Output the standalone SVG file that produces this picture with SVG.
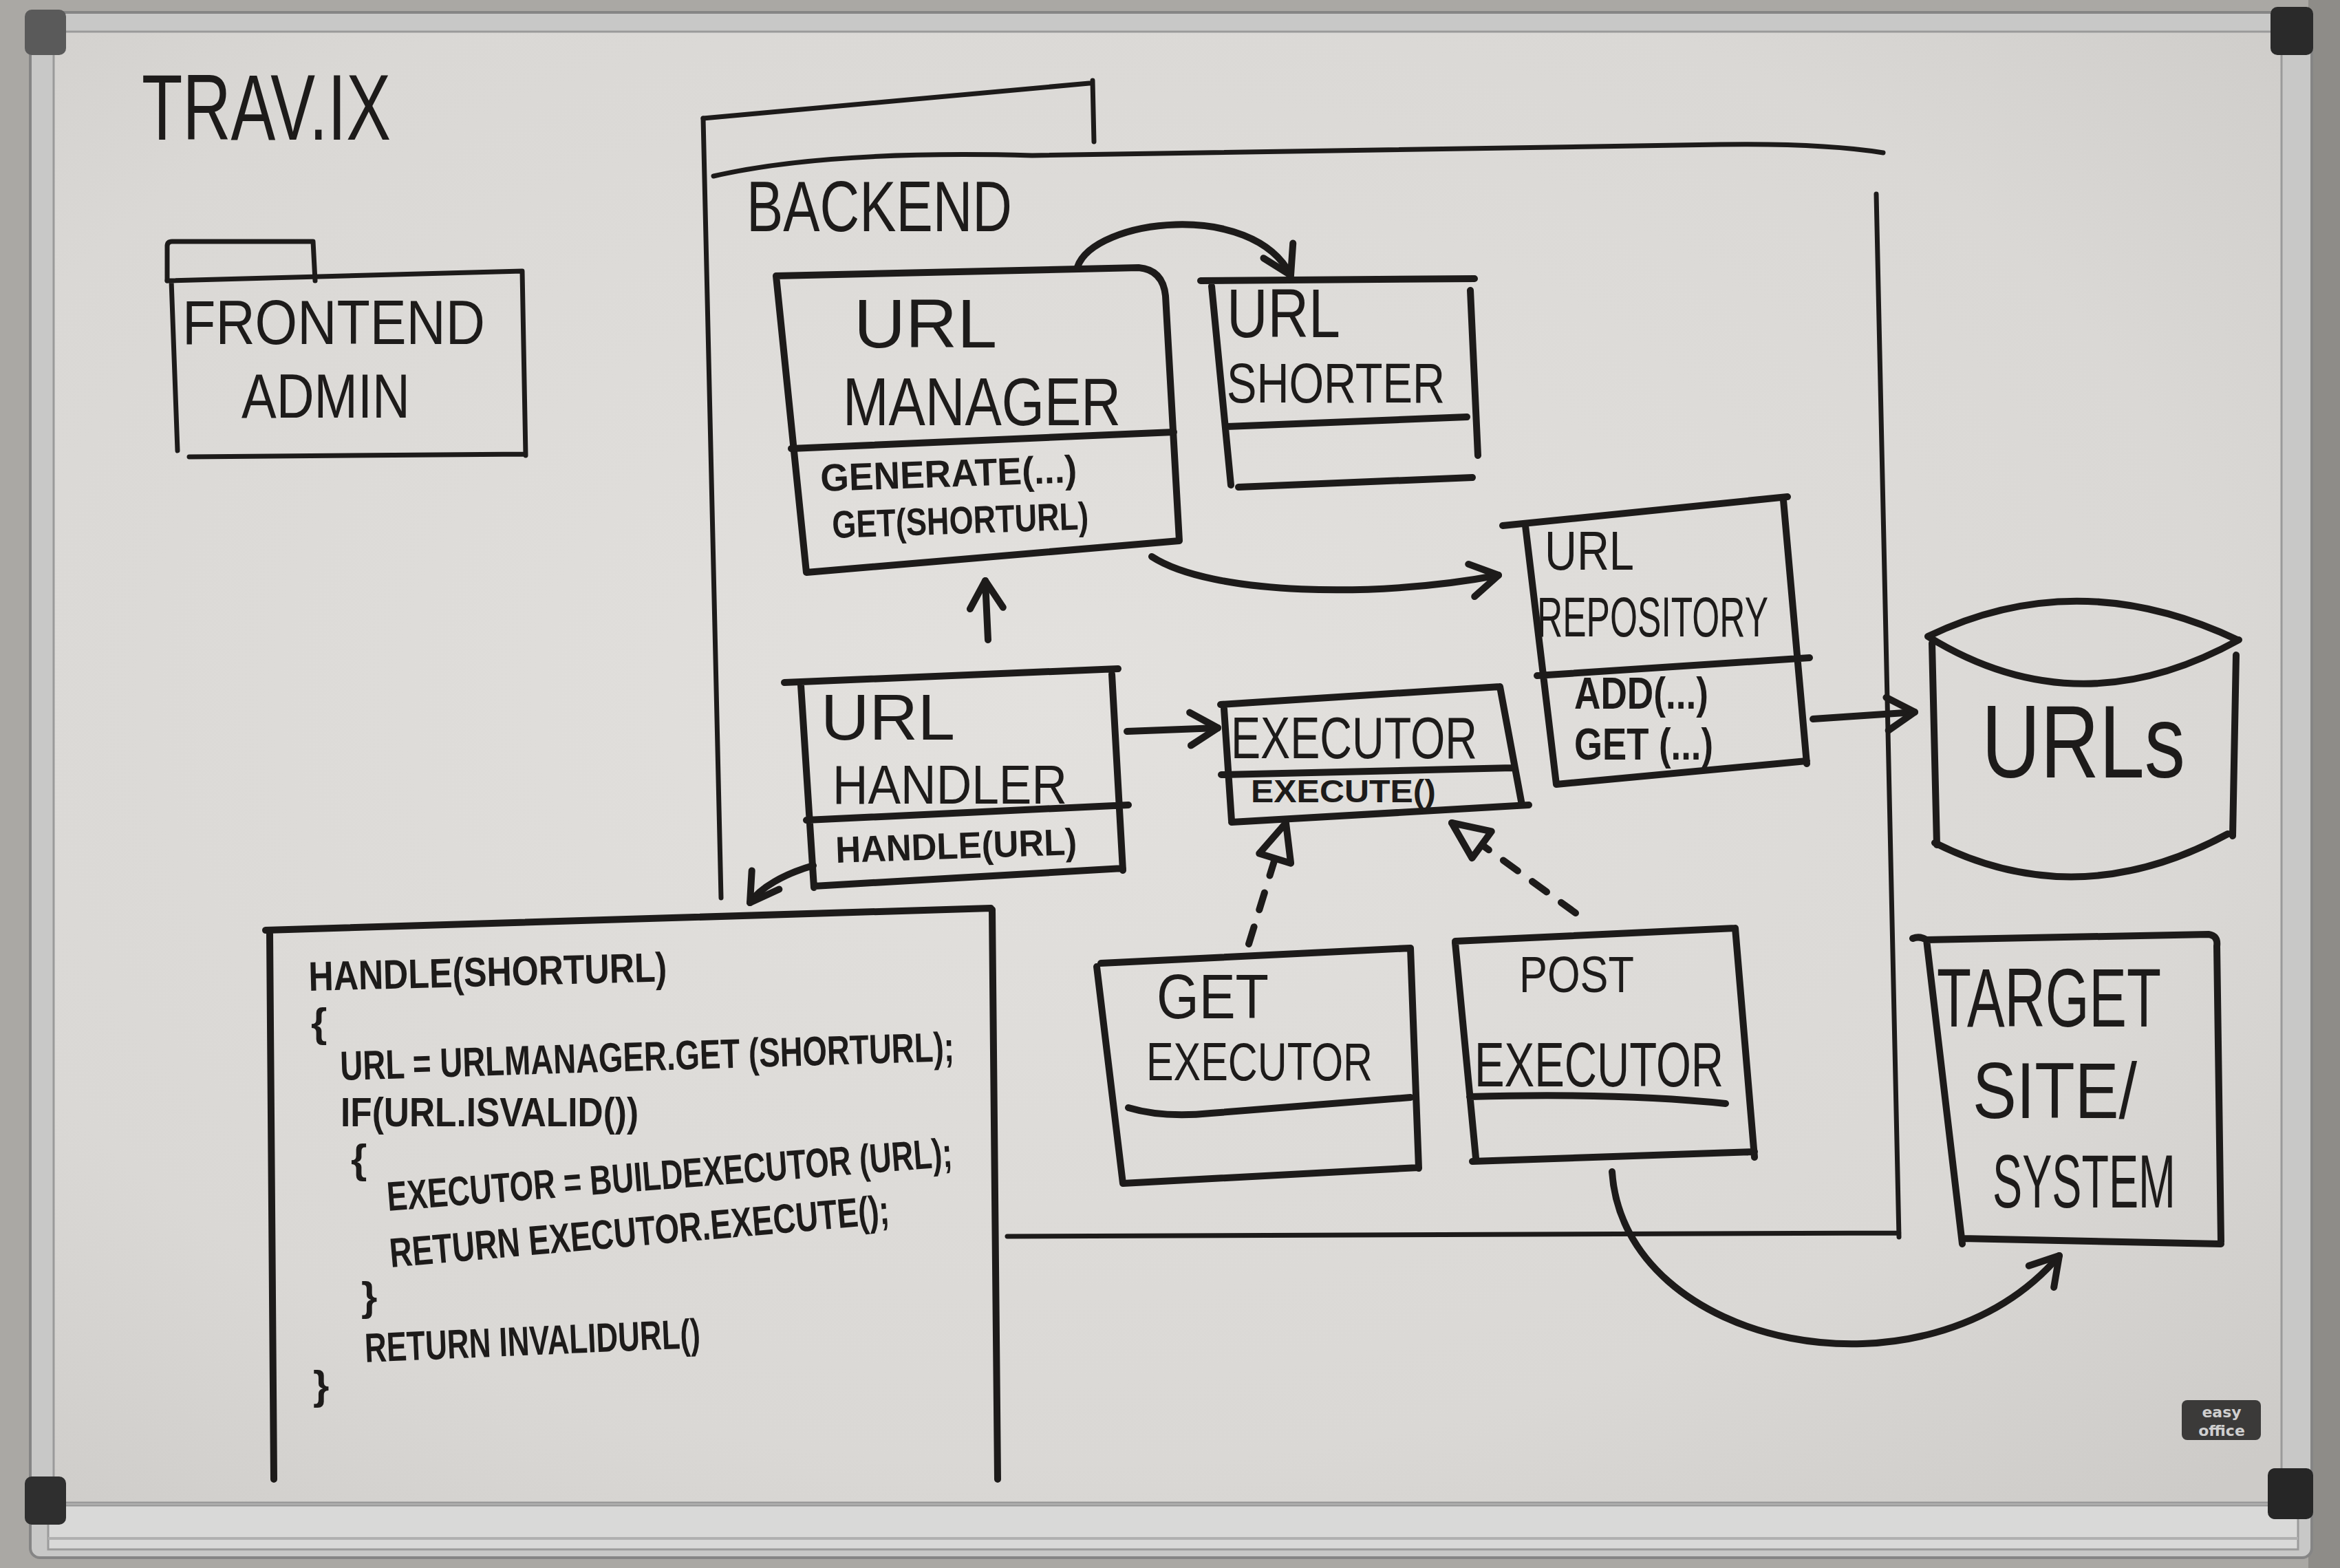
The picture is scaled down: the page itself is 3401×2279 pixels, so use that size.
<svg xmlns="http://www.w3.org/2000/svg" width="3401" height="2279" viewBox="0 0 3401 2279">
<defs>
<radialGradient id="boardGrad" cx="0.45" cy="0.45" r="0.75">
<stop offset="0" stop-color="#e3e1de"/>
<stop offset="0.7" stop-color="#dad8d5"/>
<stop offset="1" stop-color="#cdcbc8"/>
</radialGradient>
<marker id="arrow" markerUnits="userSpaceOnUse" markerWidth="70" markerHeight="70" refX="48" refY="30" orient="auto" overflow="visible">
<path d="M8,6 L48,30 L8,54" fill="none" stroke="#1d1b1a" stroke-width="10" stroke-linecap="round" stroke-linejoin="round"/>
</marker>
<marker id="tri" markerUnits="userSpaceOnUse" markerWidth="70" markerHeight="70" refX="58" refY="28" orient="auto" overflow="visible">
<path d="M4,4 L58,28 L4,52 Z" fill="#dedcd9" stroke="#1d1b1a" stroke-width="10" stroke-linejoin="round" stroke-dasharray="none"/>
</marker>
<style>
.ink{fill:none;stroke:#1d1b1a;stroke-width:10;stroke-linecap:round;stroke-linejoin:round}
.thin{stroke-width:7}
.dash{stroke-dasharray:26 26}
.t{font-family:'Liberation Sans',Arial,sans-serif;fill:#1d1b1a}
.b{font-weight:bold}
.code{font-family:'Liberation Sans',Arial,sans-serif;fill:#1d1b1a;font-weight:bold;font-size:60px}
</style>
</defs>

<!-- photo background, frame and board -->
<g id="whiteboard">
<rect x="0" y="0" width="3401" height="2279" fill="#aaa8a4"/>
<rect x="3355" y="0" width="46" height="2279" fill="#8e8c88"/>
<rect x="44" y="18" width="3316" height="2246" rx="14" fill="#c8c8c7" stroke="#858585" stroke-width="4"/>
<rect x="78" y="46" width="3238" height="2138" fill="url(#boardGrad)" stroke="#9a9a9a" stroke-width="3"/>
<rect x="70" y="2188" width="3270" height="64" fill="#d9d9d8" stroke="#9b9b9b" stroke-width="3"/>
<line x1="70" y1="2236" x2="3340" y2="2236" stroke="#b0b0b0" stroke-width="4"/>
<rect x="36" y="14" width="60" height="66" rx="10" fill="#5a5a5a"/>
<rect x="3300" y="10" width="62" height="70" rx="10" fill="#2a2a2a"/>
<rect x="36" y="2146" width="60" height="70" rx="10" fill="#2f2f2f"/>
<rect x="3296" y="2134" width="66" height="74" rx="10" fill="#262626"/>
<rect x="3171" y="2035" width="115" height="58" rx="8" fill="#3b3a39"/>
<text x="3229" y="2060" font-family="'DejaVu Sans',sans-serif" font-size="22" font-weight="bold" fill="#cfcfcf" text-anchor="middle">easy</text>
<text x="3229" y="2087" font-family="'DejaVu Sans',sans-serif" font-size="22" font-weight="bold" fill="#cfcfcf" text-anchor="middle">office</text>
</g>

<g id="title">
<text class="t" x="206" y="203" font-size="135" textLength="362" lengthAdjust="spacingAndGlyphs">TRAV.IX</text>
</g>

<g id="frontend-admin">
<path class="ink thin" d="M243,408 L243,358 Q243,351 250,351 L455,351 L458,408"/>
<path class="ink thin" d="M243,408 L759,394 L764,662 M275,664 L764,660 M249,408 L258,655"/>
<text class="t" x="265" y="500" font-size="90" textLength="440" lengthAdjust="spacingAndGlyphs">FRONTEND</text>
<text class="t" x="351" y="607" font-size="90" textLength="245" lengthAdjust="spacingAndGlyphs">ADMIN</text>
</g>

<g id="backend">
<path class="ink thin" d="M1022,172 L1583,121 M1588,117 L1590,206"/>
<path class="ink thin" d="M1037,256 Q1200,218 1500,226 L2500,210 Q2650,208 2737,222"/>
<path class="ink thin" d="M2727,282 L2760,1798 M1464,1797 L2760,1792 M1022,172 L1048,1305"/>
<text class="t" x="1085" y="336" font-size="104" textLength="386" lengthAdjust="spacingAndGlyphs">BACKEND</text>
</g>

<g id="url-manager">
<path class="ink" d="M1128,401 L1655,389 Q1690,392 1694,430 L1714,786 L1172,832 Z"/>
<path class="ink" d="M1150,652 L1706,628"/>
<text class="t" x="1241" y="505" font-size="100" textLength="208" lengthAdjust="spacingAndGlyphs">URL</text>
<text class="t" x="1225" y="618" font-size="98" textLength="404" lengthAdjust="spacingAndGlyphs">MANAGER</text>
<text class="t b" x="1193" y="714" font-size="56" textLength="373" lengthAdjust="spacingAndGlyphs" transform="rotate(-2 1193 714)">GENERATE(...)</text>
<text class="t b" x="1210" y="782" font-size="56" textLength="373" lengthAdjust="spacingAndGlyphs" transform="rotate(-2 1210 782)">GET(SHORTURL)</text>
</g>

<g id="url-shorter">
<path class="ink" d="M1745,408 L2143,405 M1761,416 L1789,705 M2137,422 L2148,662 M1783,620 L2132,606 M1800,708 L2140,694"/>
<text class="t" x="1783" y="490" font-size="100" textLength="165" lengthAdjust="spacingAndGlyphs">URL</text>
<text class="t" x="1783" y="585" font-size="82" textLength="317" lengthAdjust="spacingAndGlyphs">SHORTER</text>
</g>

<g id="url-repository">
<path class="ink" d="M2184,764 L2598,722 M2217,764 L2262,1140 M2592,727 L2626,1110 M2234,982 L2630,956 M2262,1140 L2626,1106"/>
<text class="t" x="2245" y="828" font-size="80" textLength="130" lengthAdjust="spacingAndGlyphs">URL</text>
<text class="t" x="2234" y="925" font-size="82" textLength="336" lengthAdjust="spacingAndGlyphs">REPOSITORY</text>
<text class="t b" x="2288" y="1030" font-size="64" textLength="195" lengthAdjust="spacingAndGlyphs">ADD(...)</text>
<text class="t b" x="2288" y="1104" font-size="64" textLength="202" lengthAdjust="spacingAndGlyphs">GET (...)</text>
</g>

<g id="urls-db">
<path class="ink" d="M2802,925 Q3020,820 3252,930 M2802,925 Q3020,1060 3254,930 M2808,935 L2815,1228 M3250,952 L3245,1215 M2812,1225 Q3020,1330 3238,1212"/>
<text class="t" x="2880" y="1130" font-size="150" textLength="296" lengthAdjust="spacingAndGlyphs">URLs</text>
</g>

<g id="url-handler">
<path class="ink" d="M1140,992 L1625,972 M1164,996 L1183,1290 M1616,980 L1632,1265 M1172,1192 L1640,1170 M1183,1288 L1632,1262"/>
<text class="t" x="1193" y="1075" font-size="95" textLength="195" lengthAdjust="spacingAndGlyphs">URL</text>
<text class="t" x="1210" y="1168" font-size="80" textLength="341" lengthAdjust="spacingAndGlyphs">HANDLER</text>
<text class="t b" x="1215" y="1254" font-size="54" textLength="351" lengthAdjust="spacingAndGlyphs" transform="rotate(-2 1215 1254)">HANDLE(URL)</text>
</g>

<g id="executor">
<path class="ink" d="M1774,1024 L2180,998 M1779,1030 L1790,1193 M2180,998 L2212,1170 M1775,1126 L2198,1116 M1790,1195 L2222,1170"/>
<text class="t" x="1789" y="1102" font-size="86" textLength="358" lengthAdjust="spacingAndGlyphs">EXECUTOR</text>
<text class="t b" x="1818" y="1166" font-size="46" textLength="269" lengthAdjust="spacingAndGlyphs">EXECUTE()</text>
</g>

<g id="get-executor">
<path class="ink" d="M1600,1400 L2050,1378 M1594,1405 L1632,1720 M2050,1378 L2062,1698 M1640,1610 Q1690,1625 1760,1618 L2050,1595 M1632,1720 L2062,1697"/>
<text class="t" x="1681" y="1480" font-size="90" textLength="163" lengthAdjust="spacingAndGlyphs">GET</text>
<text class="t" x="1666" y="1570" font-size="78" textLength="329" lengthAdjust="spacingAndGlyphs">EXECUTOR</text>
</g>

<g id="post-executor">
<path class="ink" d="M2115,1368 L2522,1349 M2115,1370 L2145,1683 M2522,1349 L2550,1682 M2136,1594 Q2350,1588 2508,1604 M2140,1688 L2550,1674"/>
<text class="t" x="2208" y="1442" font-size="75" textLength="167" lengthAdjust="spacingAndGlyphs">POST</text>
<text class="t" x="2143" y="1579" font-size="90" textLength="362" lengthAdjust="spacingAndGlyphs">EXECUTOR</text>
</g>

<g id="target-system">
<path class="ink" d="M2780,1364 Q2790,1360 2800,1366 L3210,1358 Q3224,1360 3222,1375 M2800,1366 L2852,1808 M3222,1375 L3228,1805 M2852,1800 L3228,1808"/>
<text class="t" x="2815" y="1492" font-size="120" textLength="326" lengthAdjust="spacingAndGlyphs">TARGET</text>
<text class="t" x="2867" y="1625" font-size="115" textLength="239" lengthAdjust="spacingAndGlyphs">SITE/</text>
<text class="t" x="2896" y="1755" font-size="110" textLength="266" lengthAdjust="spacingAndGlyphs">SYSTEM</text>
</g>

<g id="handle-code">
<path class="ink" d="M386,1352 L1440,1320 M392,1356 L398,2150 M1442,1322 L1450,2150"/>
<text class="code" x="449" y="1440" textLength="521" lengthAdjust="spacingAndGlyphs" transform="rotate(-1.5 449 1440)">HANDLE(SHORTURL)</text>
<text class="code" x="452" y="1507">{</text>
<text class="code" x="495" y="1570" textLength="893" lengthAdjust="spacingAndGlyphs" transform="rotate(-1.8 495 1570)">URL = URLMANAGER.GET (SHORTURL);</text>
<text class="code" x="495" y="1637" textLength="433" lengthAdjust="spacingAndGlyphs">IF(URL.ISVALID())</text>
<text class="code" x="510" y="1705">{</text>
<text class="code" x="564" y="1760" textLength="824" lengthAdjust="spacingAndGlyphs" transform="rotate(-4.5 564 1760)">EXECUTOR = BUILDEXECUTOR (URL);</text>
<text class="code" x="568" y="1842" textLength="729" lengthAdjust="spacingAndGlyphs" transform="rotate(-5 568 1842)">RETURN EXECUTOR.EXECUTE();</text>
<text class="code" x="525" y="1905">}</text>
<text class="code" x="531" y="1980" textLength="488" lengthAdjust="spacingAndGlyphs" transform="rotate(-2.5 531 1980)">RETURN INVALIDURL()</text>
<text class="code" x="455" y="2034">}</text>
</g>

<g id="connectors">
<path class="ink" d="M1566,388 C1590,318 1820,290 1876,400" marker-end="url(#arrow)"/>
<path class="ink" d="M1674,809 C1760,865 2000,870 2178,836" marker-end="url(#arrow)"/>
<path class="ink" d="M1436,930 L1432,844" marker-end="url(#arrow)"/>
<path class="ink" d="M1638,1063 L1770,1058" marker-end="url(#arrow)"/>
<path class="ink" d="M1182,1258 C1140,1270 1105,1290 1090,1312" marker-end="url(#arrow)"/>
<path class="ink" d="M2635,1045 L2783,1035" marker-end="url(#arrow)"/>
<path class="ink" d="M2343,1703 C2360,1960 2800,2050 2993,1825" marker-end="url(#arrow)"/>
<path class="ink dash" d="M1815,1372 L1869,1196" marker-end="url(#tri)"/>
<path class="ink dash" d="M2290,1327 L2110,1196" marker-end="url(#tri)"/>
</g>
</svg>
